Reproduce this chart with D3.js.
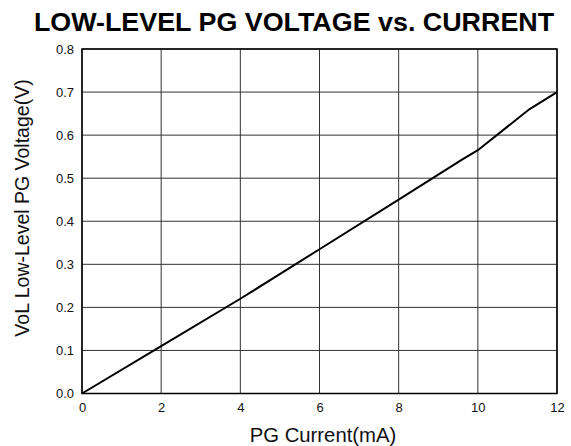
<!DOCTYPE html>
<html><head><meta charset="utf-8">
<script src="https://cdn.jsdelivr.net/npm/d3@7"></script>
<style>body{margin:0;background:#fff}svg{display:block}</style>
</head><body>
<svg id="c" width="571" height="446"></svg>
<script>
const currentMA = [0, 2, 4, 6, 8, 9.6, 10, 11.3, 12];
const voltageV = [0, 0.11, 0.22, 0.335, 0.45, 0.543, 0.565, 0.66, 0.70];
const xTicks = [0, 2, 4, 6, 8, 10, 12];
const yTicks = [0, 0.1, 0.2, 0.3, 0.4, 0.5, 0.6, 0.7, 0.8];

const svg = d3.select("#c");
const L = 82, R = 557, T = 49, B = 393.5;
const x = d3.scaleLinear().domain([0, 12]).range([L, R]);
const y = d3.scaleLinear().domain([0, 0.8]).range([B, T]);
const font = "'Liberation Sans', Arial, sans-serif";

// grid
svg.append("g").selectAll("line").data(xTicks).join("line")
  .attr("x1", d => x(d)).attr("x2", d => x(d)).attr("y1", T).attr("y2", B)
  .attr("stroke", "#333").attr("stroke-width", 1);
svg.append("g").selectAll("line").data(yTicks).join("line")
  .attr("x1", L).attr("x2", R).attr("y1", d => y(d)).attr("y2", d => y(d))
  .attr("stroke", "#333").attr("stroke-width", 1);

// axes
const xAxis = svg.append("g").attr("transform", `translate(0,${B})`)
  .call(d3.axisBottom(x).tickValues(xTicks).tickSize(0).tickPadding(9).tickFormat(d3.format("d")));
const yAxis = svg.append("g").attr("transform", `translate(${L},0)`)
  .call(d3.axisLeft(y).tickValues(yTicks).tickSize(0).tickPadding(8).tickFormat(d3.format(".1f")));
[xAxis, yAxis].forEach(g => {
  g.select(".domain").remove();
  g.selectAll("text").attr("font-family", font).attr("font-size", 13).attr("fill", "#111");
});

// border
svg.append("rect").attr("x", L).attr("y", T).attr("width", R - L).attr("height", B - T)
  .attr("fill", "none").attr("stroke", "#000").attr("stroke-width", 1.5);

// line
const line = d3.line().x((d, i) => x(currentMA[i])).y((d, i) => y(voltageV[i]));
svg.append("path").datum(voltageV).attr("d", line)
  .attr("fill", "none").attr("stroke", "#000").attr("stroke-width", 2);

// titles
svg.append("text").attr("transform", "translate(294,31) scale(1.075,1)").attr("text-anchor", "middle")
  .attr("font-family", font).attr("font-weight", "bold").attr("font-size", 25)
  .text("LOW-LEVEL PG VOLTAGE vs. CURRENT");
svg.append("text").attr("x", 323).attr("y", 442).attr("text-anchor", "middle")
  .attr("font-family", font).attr("font-size", 20.3).attr("fill", "#111").text("PG Current(mA)");
svg.append("text").attr("transform", "translate(29,208) rotate(-90)").attr("text-anchor", "middle")
  .attr("font-family", font).attr("font-size", 19.5).attr("fill", "#111").text("VoL Low-Level PG Voltage(V)");
</script>
</body></html>
